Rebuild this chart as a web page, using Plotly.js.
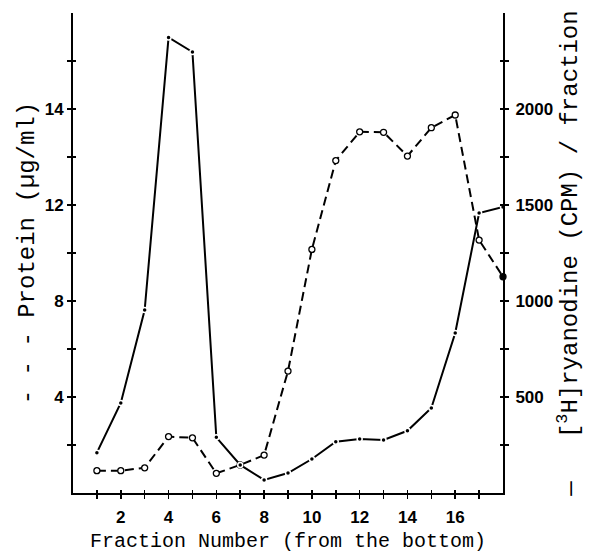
<!DOCTYPE html>
<html><head><meta charset="utf-8">
<script src="https://cdn.plot.ly/plotly-3.0.1.min.js"></script>
<style>html,body{margin:0;padding:0;background:#fff}</style>
</head><body><div id="chart" style="width:593px;height:553px"></div>
<script>
// Fraction numbers (from the bottom of the gradient)
const fractions = [1,2,3,4,5,6,7,8,9,10,11,12,13,14,15,16,17,18];
// Protein (ug/ml) - dashed line, open circles (left axis)
const protein = [0.93,0.93,1.05,2.35,2.30,0.82,1.17,1.58,5.08,10.15,13.85,15.05,15.03,14.04,15.22,15.75,10.54,9.01];
// [3H]ryanodine (CPM) / fraction - solid line, dots (right axis)
const ryanodine = [210,469,953,2373,2297,290,146,68,104,177,267,281,276,324,443,833,1458,1490];

// Tick labels (as printed in the figure)
const xTickVals = [2,4,6,8,10,12,14,16];
const xTickText = ['2','4','6','8','10','12','14','16'];
const xMinorVals = [1,3,5,7,9,11,13,15,17];
const leftTickVals = [4,8,12,16];
const leftTickText = ['4','8','12','14'];
const leftMinorVals = [2,6,10,14,18];
const rightTickVals = [500,1000,1500,2000];
const rightTickText = ['500','1000','1500','2000'];
const rightMinorVals = [250,750,1250,1750,2250];

const tickFont = {family:'Liberation Sans, Arial, sans-serif', size:17, color:'#000', weight:'bold'};
const xTitleFont = {family:'Liberation Mono, Courier New, monospace', size:20, color:'#000'};
const yTitleFont = {family:'Liberation Mono, Courier New, monospace', size:24, color:'#000'};

const proteinMarkerColors = fractions.map((f, i) => i === fractions.length - 1 ? '#000' : '#fff');

const traces = [
  {x:fractions, y:protein, type:'scatter', mode:'lines+markers', xaxis:'x', yaxis:'y', cliponaxis:false,
   line:{color:'#000', width:2, dash:'9px,5px'},
   marker:{symbol:'circle', size:6, color:proteinMarkerColors, line:{color:'#000', width:1.3}}},
  {x:fractions, y:ryanodine, type:'scatter', mode:'lines+markers', xaxis:'x', yaxis:'y2', cliponaxis:false,
   line:{color:'#000', width:2},
   marker:{symbol:'circle', size:5, color:'#000', line:{color:'#fff', width:1.5}}},
  {x:[0], y:[0], xaxis:'x3', yaxis:'y', mode:'markers', marker:{opacity:0}, hoverinfo:'skip'},
  {x:[0], y:[0], xaxis:'x', yaxis:'y3', mode:'markers', marker:{opacity:0}, hoverinfo:'skip'},
  {x:[0], y:[0], xaxis:'x', yaxis:'y4', mode:'markers', marker:{opacity:0}, hoverinfo:'skip'}
];

function axisBase(tickvals, ticktext, minorVals, inside) {
  return {showgrid:false, zeroline:false, showline:!inside, linecolor:'#000', linewidth:2,
    ticks: inside ? 'inside' : 'outside', ticklen: inside ? 3 : 4, tickwidth:1.5, tickcolor:'#000',
    tickmode:'array', tickvals:tickvals, ticktext:ticktext, showticklabels:!inside, tickfont:tickFont,
    minor:{tickmode:'array', tickvals:minorVals, ticks: inside ? 'inside' : 'outside', ticklen: inside ? 3 : 4, tickwidth:1.5, tickcolor:'#000', showgrid:false}};
}

const layout = {
  width:593, height:553, margin:{l:73, r:90, t:13, b:60},
  paper_bgcolor:'#fff', plot_bgcolor:'#fff', showlegend:false,
  xaxis: Object.assign(axisBase(xTickVals, xTickText, xMinorVals, false), {range:[0,18], ticklabelstandoff:4,
    title:{text:'Fraction Number (from the bottom)', font:xTitleFont, standoff:10}}),
  yaxis: Object.assign(axisBase(leftTickVals, leftTickText, leftMinorVals, false), {range:[0,20],
    title:{text:'- - - Protein (µg/ml)', font:yTitleFont, standoff:3}}),
  yaxis2: Object.assign(axisBase(rightTickVals, rightTickText, rightMinorVals, false), {range:[0,2500], overlaying:'y', side:'right', ticklabelstandoff:3,
    title:{text:'—   [<sup>3</sup>H]ryanodine (CPM) / fraction', font:yTitleFont, standoff:6}}),
  xaxis3: Object.assign(axisBase(xTickVals, xTickText, xMinorVals, true), {range:[0,18], overlaying:'x'}),
  yaxis3: Object.assign(axisBase(leftTickVals, leftTickText, leftMinorVals, true), {range:[0,20], overlaying:'y'}),
  yaxis4: Object.assign(axisBase(rightTickVals, rightTickText, rightMinorVals, true), {range:[0,2500], overlaying:'y', side:'right'})
};

Plotly.newPlot('chart', traces, layout, {staticPlot:true, displayModeBar:false});
</script>
</body></html>
